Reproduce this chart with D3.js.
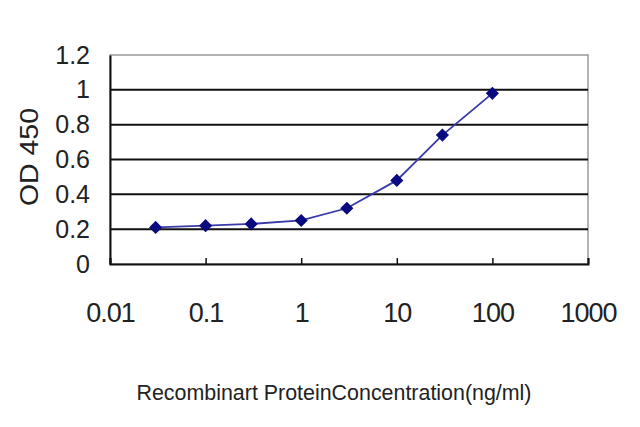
<!DOCTYPE html>
<html>
<head>
<meta charset="utf-8">
<script src="https://cdn.jsdelivr.net/npm/d3@7"></script>
<style>
  body { margin: 0; background: #fff; }
  text { font-family: "Liberation Sans", Arial, sans-serif; fill: #222; }
</style>
</head>
<body>
<div id="chart"></div>
<script>
// concentrations (ng/ml) and OD 450 readings
var concentrations = [0.03, 0.1, 0.3, 1, 3, 10, 30, 100];
var odValues = [0.21, 0.22, 0.23, 0.25, 0.32, 0.48, 0.74, 0.98];
var xTicks = [0.01, 0.1, 1, 10, 100, 1000];
var yTicks = [0, 0.2, 0.4, 0.6, 0.8, 1, 1.2];

var svgWidth = 640, svgHeight = 427;
var margin = { top: 55, right: 52, bottom: 163, left: 110 };
var chartWidth = svgWidth - margin.left - margin.right;
var chartHeight = svgHeight - margin.top - margin.bottom;

var svg = d3.select("#chart").append("svg")
  .attr("width", svgWidth)
  .attr("height", svgHeight);

var chartGroup = svg.append("g")
  .attr("transform", `translate(${margin.left}, ${margin.top})`);

var xScale = d3.scaleLog().domain([0.01, 1000]).range([0, chartWidth]);
var yScale = d3.scaleLinear().domain([0, 1.2]).range([chartHeight, 0]);

// grey frame on top/right
chartGroup.append("rect")
  .attr("width", chartWidth)
  .attr("height", chartHeight)
  .attr("fill", "none")
  .attr("stroke", "#999")
  .attr("stroke-width", 1.5);

// horizontal gridlines
chartGroup.selectAll(".grid")
  .data(yTicks.filter(d => d > 0 && d < 1.2))
  .enter()
  .append("line")
  .attr("x1", 0)
  .attr("x2", chartWidth)
  .attr("y1", d => yScale(d))
  .attr("y2", d => yScale(d))
  .attr("stroke", "#111")
  .attr("stroke-width", 2);

// x axis with ticks pointing up into the plot
var xAxis = d3.axisBottom(xScale)
  .tickValues(xTicks)
  .tickSizeInner(-6)
  .tickSizeOuter(-6)
  .tickFormat(d => String(d));
var xAxisG = chartGroup.append("g")
  .attr("transform", `translate(0,${chartHeight})`)
  .call(xAxis);
xAxisG.select(".domain").attr("stroke", "#111").attr("stroke-width", 2);
xAxisG.selectAll(".tick line").attr("stroke", "#111").attr("stroke-width", 1.5);
xAxisG.selectAll(".tick text")
  .attr("y", 0)
  .attr("dy", 58)
  .style("font-size", "27px")
  .style("font-family", "Liberation Sans, Arial, sans-serif")
  .style("letter-spacing", "-1px")
  .attr("fill", "#222");

// y axis
var yAxis = d3.axisLeft(yScale)
  .tickValues(yTicks)
  .tickSize(0)
  .tickPadding(20)
  .tickFormat(d => String(d));
var yAxisG = chartGroup.append("g").call(yAxis);
yAxisG.select(".domain").attr("stroke", "#111").attr("stroke-width", 2);
yAxisG.selectAll(".tick text")
  .style("font-size", "25px")
  .style("font-family", "Liberation Sans, Arial, sans-serif")
  .attr("fill", "#222");

// curve
var line = d3.line()
  .x((d, i) => xScale(concentrations[i]))
  .y(d => yScale(d));
chartGroup.append("path")
  .datum(odValues)
  .attr("d", line)
  .attr("fill", "none")
  .attr("stroke", "#3a3aa8")
  .attr("stroke-width", 1.8);

// diamond markers
chartGroup.selectAll(".pt")
  .data(odValues)
  .enter()
  .append("path")
  .attr("d", d3.symbol().type(d3.symbolDiamond2).size(110))
  .attr("transform", (d, i) => `translate(${xScale(concentrations[i])},${yScale(d)})`)
  .attr("fill", "#0a0a80");

// axis titles
svg.append("text")
  .attr("transform", "rotate(-90)")
  .attr("x", -157)
  .attr("y", 38)
  .attr("text-anchor", "middle")
  .attr("textLength", 98)
  .attr("lengthAdjust", "spacingAndGlyphs")
  .style("font-size", "25px")
  .text("OD 450");

svg.append("text")
  .attr("x", 334)
  .attr("y", 400)
  .attr("text-anchor", "middle")
  .attr("textLength", 395)
  .attr("lengthAdjust", "spacingAndGlyphs")
  .style("font-size", "22px")
  .text("Recombinart ProteinConcentration(ng/ml)");
</script>
</body>
</html>
